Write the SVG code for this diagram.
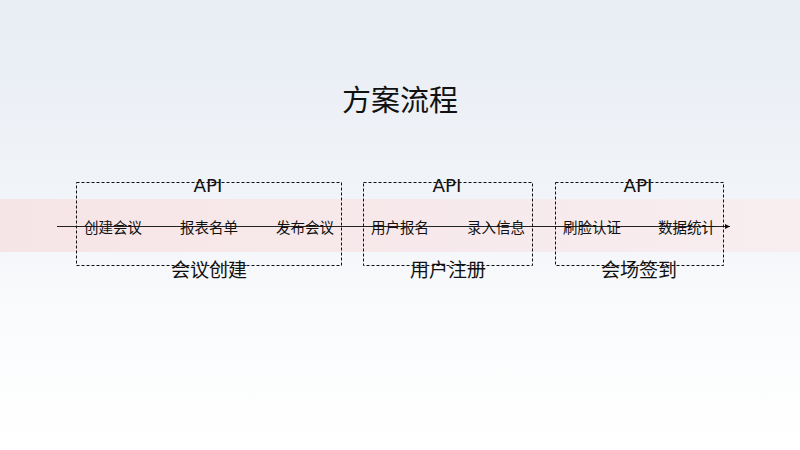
<svg xmlns="http://www.w3.org/2000/svg" width="800" height="450" viewBox="0 0 800 450">
<defs>
<linearGradient id="bg" x1="0" y1="0" x2="0" y2="1">
<stop offset="0" stop-color="#e8edf4"/>
<stop offset="0.45" stop-color="#f1f4f8"/>
<stop offset="0.75" stop-color="#fbfcfd"/>
<stop offset="1" stop-color="#ffffff"/>
</linearGradient>
<linearGradient id="band" x1="0" y1="0" x2="1" y2="0">
<stop offset="0" stop-color="#f6e5e7"/>
<stop offset="1" stop-color="#f8edef"/>
</linearGradient>
<marker id="arr" markerWidth="6" markerHeight="6" refX="5" refY="3" orient="auto" markerUnits="userSpaceOnUse">
<path d="M0,0.5 L5,3 L0,5.5 Z" fill="#111"/>
</marker>
<style>
.box{fill:none;stroke:#111;stroke-width:1;stroke-dasharray:3,2}
.t{font-family:"Noto Sans CJK SC","Liberation Sans",sans-serif;fill:#111;text-anchor:middle;dominant-baseline:central}
.api{font-family:"DejaVu Sans","Liberation Sans",sans-serif;font-size:17px;fill:#111;text-anchor:middle;dominant-baseline:central}
.item{font-size:14.5px}
.grp{font-size:19px}
</style>
</defs>
<rect width="800" height="450" fill="url(#bg)"/>
<rect x="0" y="199" width="800" height="53" fill="url(#band)"/>
<text class="t" x="400" y="98" font-size="29">方案流程</text>
<g id="connectors">
<line x1="57" y1="226.5" x2="730" y2="226.5" stroke="#222" stroke-width="1" marker-end="url(#arr)"/>
</g>
<g id="stage1">
<rect class="box" x="76.5" y="182.5" width="265" height="83"/>
<text class="api" x="208" y="186" textLength="29" lengthAdjust="spacingAndGlyphs">API</text>
<text class="t item" x="113" y="226">创建会议</text>
<text class="t item" x="209" y="226">报表名单</text>
<text class="t item" x="305" y="226">发布会议</text>
<text class="t grp" x="209" y="268">会议创建</text>
</g>
<g id="stage2">
<rect class="box" x="363.5" y="182.5" width="169" height="83"/>
<text class="api" x="447" y="186" textLength="29" lengthAdjust="spacingAndGlyphs">API</text>
<text class="t item" x="400" y="226">用户报名</text>
<text class="t item" x="496" y="226">录入信息</text>
<text class="t grp" x="448" y="268">用户注册</text>
</g>
<g id="stage3">
<rect class="box" x="555.5" y="182.5" width="168" height="83"/>
<text class="api" x="638" y="186" textLength="29" lengthAdjust="spacingAndGlyphs">API</text>
<text class="t item" x="592" y="226">刷脸认证</text>
<text class="t item" x="687" y="226">数据统计</text>
<text class="t grp" x="639" y="268">会场签到</text>
</g>
</svg>
